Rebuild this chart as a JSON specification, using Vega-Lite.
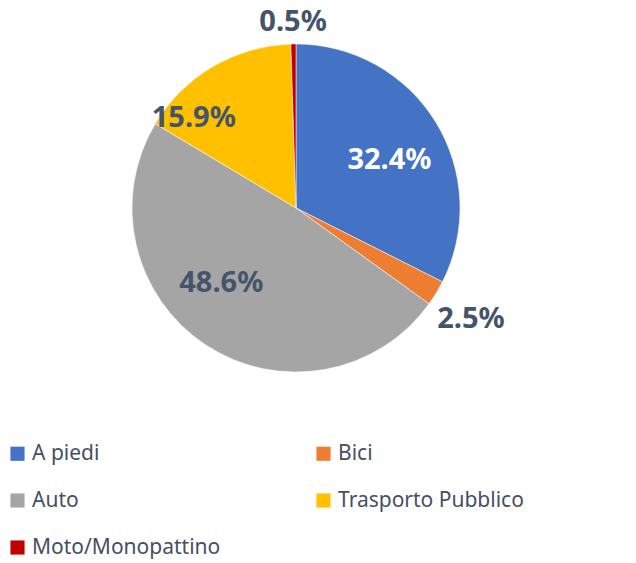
{
  "$schema": "https://vega.github.io/schema/vega-lite/v6.json",
  "width": 592,
  "height": 416,
  "autosize": "none",
  "padding": {"left": 0, "top": 0, "right": 44, "bottom": 147},
  "background": "white",
  "config": {"view": {"stroke": null}, "font": "Noto Sans"},
  "data": {
    "values": [
      {"cat": "A piedi", "value": 32.4, "order": 1, "label": "32.4%"},
      {"cat": "Bici", "value": 2.5, "order": 2, "label": "2.5%"},
      {"cat": "Auto", "value": 48.6, "order": 3, "label": "48.6%"},
      {"cat": "Trasporto Pubblico", "value": 15.9, "order": 4, "label": "15.9%"},
      {"cat": "Moto/Monopattino", "value": 0.5, "order": 5, "label": "0.5%"}
    ]
  },
  "encoding": {
    "theta": {"field": "value", "type": "quantitative", "stack": true},
    "order": {"field": "order", "type": "quantitative"}
  },
  "layer": [
    {
      "mark": {"type": "arc", "outerRadius": 164, "stroke": "white", "strokeWidth": 0.5},
      "encoding": {
        "color": {
          "field": "cat",
          "type": "nominal",
          "sort": ["A piedi", "Bici", "Auto", "Trasporto Pubblico", "Moto/Monopattino"],
          "scale": {
            "domain": ["A piedi", "Bici", "Auto", "Trasporto Pubblico", "Moto/Monopattino"],
            "range": ["#4472C4", "#ED7D31", "#A5A5A5", "#FFC000", "#C00000"]
          },
          "legend": {
            "title": null,
            "orient": "none",
            "legendX": 7,
            "legendY": 443,
            "columns": 2,
            "direction": "horizontal",
            "symbolType": "square",
            "symbolSize": 200,
            "symbolStrokeWidth": 0,
            "labelFontSize": 21,
            "labelColor": "#465063",
            "labelFont": "Noto Sans",
            "labelOffset": 4,
            "rowPadding": 25,
            "columnPadding": 92,
            "padding": 0,
            "labelLimit": 400
          }
        }
      }
    },
    {
      "mark": {"type": "text", "radius": 105, "dx": 4, "dy": 7, "fontSize": 29, "fontWeight": "bold", "fill": "white"},
      "encoding": {"text": {"condition": {"test": "datum.cat === 'A piedi'", "field": "label"}, "value": ""}}
    },
    {
      "mark": {"type": "text", "radius": 207, "dx": -2, "dy": 4, "fontSize": 29, "fontWeight": "bold", "fill": "#44546A"},
      "encoding": {"text": {"condition": {"test": "datum.cat === 'Bici'", "field": "label"}, "value": ""}}
    },
    {
      "mark": {"type": "text", "radius": 105, "dx": -17, "dy": -13, "fontSize": 29, "fontWeight": "bold", "fill": "#44546A"},
      "encoding": {"text": {"condition": {"test": "datum.cat === 'Auto'", "field": "label"}, "value": ""}}
    },
    {
      "mark": {"type": "text", "radius": 105, "dx": -49, "dy": 1, "fontSize": 29, "fontWeight": "bold", "fill": "#44546A"},
      "encoding": {"text": {"condition": {"test": "datum.cat === 'Trasporto Pubblico'", "field": "label"}, "value": ""}}
    },
    {
      "mark": {"type": "text", "radius": 186, "dx": 0, "dy": 0, "fontSize": 29, "fontWeight": "bold", "fill": "#44546A"},
      "encoding": {"text": {"condition": {"test": "datum.cat === 'Moto/Monopattino'", "field": "label"}, "value": ""}}
    }
  ]
}
